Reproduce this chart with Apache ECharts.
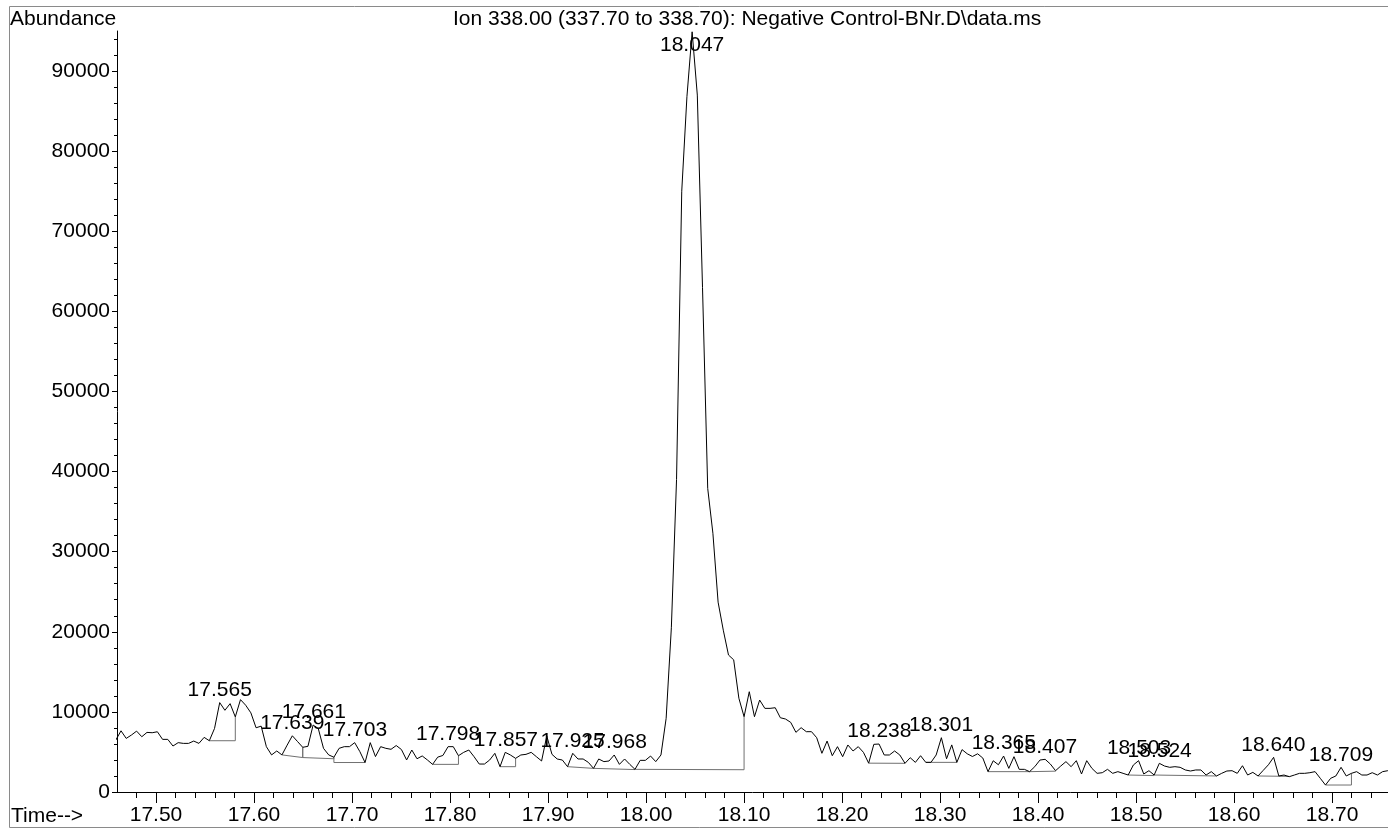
<!DOCTYPE html>
<html>
<head>
<meta charset="utf-8">
<script src="https://cdn.jsdelivr.net/npm/echarts@6/dist/echarts.min.js"></script>
<style>
html,body{margin:0;padding:0;background:#fff;}
#chart{width:1388px;height:829px;}
</style>
</head>
<body>
<div id="chart"></div>
<script>
// ---------------- DATA ----------------
const titleText = 'Ion 338.00 (337.70 to 338.70): Negative Control-BNr.D\\data.ms';
const yAxisName = 'Abundance';
const xAxisName = 'Time-->';

// scan times (min)
const scanTimes = [
17.4590,17.4643,17.4696,17.4749,17.4802,17.4855,17.4908,17.4961,17.5014,17.5067,
17.5120,17.5173,17.5226,17.5279,17.5332,17.5385,17.5438,17.5491,17.5544,17.5597,
17.5650,17.5703,17.5756,17.5809,17.5862,17.5915,17.5968,17.6021,17.6073,17.6126,
17.6179,17.6232,17.6285,17.6338,17.6391,17.6444,17.6497,17.6550,17.6603,17.6656,
17.6709,17.6762,17.6815,17.6868,17.6921,17.6974,17.7027,17.7080,17.7133,17.7186,
17.7239,17.7292,17.7345,17.7398,17.7451,17.7504,17.7557,17.7610,17.7663,17.7716,
17.7769,17.7822,17.7874,17.7927,17.7980,17.8033,17.8086,17.8139,17.8192,17.8245,
17.8298,17.8351,17.8404,17.8457,17.8510,17.8563,17.8616,17.8669,17.8722,17.8775,
17.8828,17.8881,17.8934,17.8987,17.9040,17.9093,17.9146,17.9199,17.9252,17.9305,
17.9358,17.9411,17.9464,17.9517,17.9570,17.9622,17.9675,17.9728,17.9781,17.9834,
17.9887,17.9940,17.9993,18.0046,18.0099,18.0152,18.0205,18.0258,18.0311,18.0364,
18.0417,18.0470,18.0523,18.0576,18.0629,18.0682,18.0735,18.0788,18.0841,18.0894,
18.0947,18.1000,18.1053,18.1106,18.1159,18.1212,18.1265,18.1318,18.1370,18.1423,
18.1476,18.1529,18.1582,18.1635,18.1688,18.1741,18.1794,18.1847,18.1900,18.1953,
18.2006,18.2059,18.2112,18.2165,18.2218,18.2271,18.2324,18.2377,18.2430,18.2483,
18.2536,18.2589,18.2642,18.2695,18.2748,18.2801,18.2854,18.2907,18.2960,18.3013,
18.3066,18.3119,18.3171,18.3224,18.3277,18.3330,18.3383,18.3436,18.3489,18.3542,
18.3595,18.3648,18.3701,18.3754,18.3807,18.3860,18.3913,18.3966,18.4019,18.4072,
18.4125,18.4178,18.4231,18.4284,18.4337,18.4390,18.4443,18.4496,18.4549,18.4602,
18.4655,18.4708,18.4761,18.4814,18.4867,18.4919,18.4972,18.5025,18.5078,18.5131,
18.5184,18.5237,18.5290,18.5343,18.5396,18.5449,18.5502,18.5555,18.5608,18.5661,
18.5714,18.5767,18.5820,18.5873,18.5926,18.5979,18.6032,18.6085,18.6138,18.6191,
18.6244,18.6297,18.6350,18.6403,18.6456,18.6509,18.6562,18.6615,18.6667,18.6720,
18.6773,18.6826,18.6879,18.6932,18.6985,18.7038,18.7091,18.7144,18.7197,18.7250,
18.7303,18.7356,18.7409,18.7462,18.7515,18.7568,18.7621
];

// abundance at each scan
const abundance = [
6490,7640,6690,7110,7600,6900,7440,7400,7520,6570,
6570,5740,6160,6070,6070,6360,6070,6820,6400,7930,
11160,10200,11030,9380,11530,10830,9880,8020,8220,5660,
4630,5120,4630,5850,7020,6300,5580,5700,8360,7900,
5450,4630,4340,5450,5660,5660,6160,5040,3680,6160,
4420,5660,5450,5330,5800,5300,4000,5240,4150,4500,
4000,3450,4350,4560,5660,5660,4530,4950,5240,4410,
3490,3490,3990,4830,3160,4950,4620,4200,4620,4700,
4950,4410,3870,6990,4700,4120,3990,3160,4830,4120,
4120,3700,2950,4120,3790,3870,4620,3450,4120,3450,
2830,3950,3950,4490,3790,4620,9200,20500,39000,75000,
86800,94900,87000,63000,37900,32300,23700,20200,17100,16500,
11700,9400,12520,9400,11480,10440,10440,10520,9270,9110,
8690,7450,8030,7530,7530,6780,4830,6360,4530,5660,
4410,5870,5120,5660,4950,3600,5950,5990,4620,4620,
5120,4620,3580,4280,3700,4530,3700,3700,4620,6780,
4150,5880,3700,5290,4770,4430,4770,4240,2540,3900,
3400,4490,2950,4410,2830,2830,2540,3160,3990,4080,
3490,2660,3240,3790,3160,3910,2250,3910,2950,2330,
2410,2830,2330,2540,2330,2120,3370,3910,2250,2660,
2120,3580,3240,3080,3160,3080,2750,2620,2750,2750,
2120,2540,2000,2330,2620,2660,2330,3280,2120,2450,
2000,2700,3400,4330,2000,2120,1910,2120,2330,2330,
2410,2540,1710,870,1710,2000,3080,2000,2330,2540,
2120,2120,2410,2120,2540,2660,2500
];

// labelled peaks (retention times)
const peakLabels = ['17.565','17.639','17.661','17.703','17.798','17.857','17.925','17.968',
  '18.047','18.238','18.301','18.365','18.407','18.503','18.524','18.640','18.709'];

// integration events: start/end time and baseline abundance at start/end
const eventStart = [17.5544,17.6285,17.6497,17.6815,17.7822,17.8510,17.9199,17.9464,17.9887,
  18.2271,18.2854,18.3489,18.3913,18.4919,18.5184,18.6244,18.6932];
const eventEnd   = [17.5809,17.6497,17.6815,17.7133,17.8086,17.8669,17.9464,17.9887,18.1000,
  18.2642,18.3171,18.3913,18.4178,18.5184,18.5820,18.6562,18.7197];
const baseStart  = [6400,4630,4300,3680,3450,3160,3160,2950,2780,3600,3700,2540,2540,2050,2050,2000,870];
const baseEnd    = [6400,4300,4150,3680,3450,3160,2950,2800,2780,3580,3700,2540,2600,2050,2000,1950,870];

// axis tick labels
const xTickLabels = ['17.50','17.60','17.70','17.80','17.90','18.00','18.10','18.20','18.30','18.40','18.50','18.60','18.70'];
const yTickLabels = ['0','10000','20000','30000','40000','50000','60000','70000','80000','90000'];

// ---------------- CHART ----------------
const FONT = '"Liberation Sans", Arial, Helvetica, sans-serif';
const TXT = '#000';
const X_MIN = 17.4602, X_MAX = 18.757, Y_MIN = 0, Y_MAX = 95000;

const xMajor = xTickLabels.map(Number);
const yMajor = yTickLabels.map(Number);
const xMinor = [];
for (let i = 874; i <= 937; i++) { if (i % 5 !== 0) xMinor.push(Math.round(i * 2) / 100); }
const yMinor = [];
for (let v = 2000; v < Y_MAX; v += 2000) { if (v % 10000 !== 0) yMinor.push(v); }

const trace = scanTimes.map((t, i) => [t, abundance[i]]);
function traceAt(t) {
  let best = 0, bd = Infinity;
  scanTimes.forEach((s, i) => { const d = Math.abs(s - t); if (d < bd) { bd = d; best = i; } });
  return abundance[best];
}

const eventSeries = eventStart.map((ts, i) => ({
  type: 'line',
  data: [[ts, traceAt(ts)], [ts, baseStart[i]], [eventEnd[i], baseEnd[i]], [eventEnd[i], traceAt(eventEnd[i])]],
  symbol: 'none', silent: true, z: 2,
  lineStyle: { color: '#707070', width: 1 }
}));

const labelData = peakLabels.map(l => {
  const t = parseFloat(l), v = traceAt(t);
  const nearTop = v > 0.85 * Y_MAX;
  return { value: [t, v], label: { position: nearTop ? 'bottom' : 'top', distance: nearTop ? 3 : 2 } };
});

const chart = echarts.init(document.getElementById('chart'), null, { renderer: 'canvas' });
chart.setOption({
  animation: false,
  backgroundColor: '#fff',
  textStyle: { fontFamily: FONT },
  grid: { left: 117, right: 0, top: 31, bottom: 37, containLabel: false },
  xAxis: [{
    type: 'value', min: X_MIN, max: X_MAX, position: 'bottom',
    axisLine: { onZero: false, lineStyle: { color: '#000', width: 1 } },
    axisTick: { customValues: xMajor, length: 11, lineStyle: { color: '#000', width: 1 } },
    axisLabel: { customValues: xMajor, margin: 13, fontSize: 21, fontFamily: FONT, color: TXT,
      formatter: v => { const i = xMajor.findIndex(m => Math.abs(m - v) < 1e-6); return i >= 0 ? xTickLabels[i] : ''; } },
    splitLine: { show: false }
  }, {
    type: 'value', min: X_MIN, max: X_MAX, position: 'bottom',
    axisLine: { show: false, onZero: false },
    axisTick: { customValues: xMinor, length: 6, lineStyle: { color: '#000', width: 1 } },
    axisLabel: { show: false }, splitLine: { show: false }
  }],
  yAxis: [{
    type: 'value', min: Y_MIN, max: Y_MAX, position: 'left',
    axisLine: { show: true, onZero: false, lineStyle: { color: '#000', width: 1 } },
    axisTick: { customValues: yMajor, length: 5, lineStyle: { color: '#000', width: 1 } },
    axisLabel: { customValues: yMajor, margin: 7, fontSize: 21, fontFamily: FONT, color: TXT,
      formatter: v => { const i = yMajor.indexOf(v); return i >= 0 ? yTickLabels[i] : ''; } },
    splitLine: { show: false }
  }, {
    type: 'value', min: Y_MIN, max: Y_MAX, position: 'left',
    axisLine: { show: false, onZero: false },
    axisTick: { customValues: yMinor, length: 3, lineStyle: { color: '#000', width: 1 } },
    axisLabel: { show: false }, splitLine: { show: false }
  }],
  series: [
    { type: 'line', data: trace, symbol: 'none', showSymbol: false, silent: true, z: 3,
      lineStyle: { color: '#000', width: 1 } },
    ...eventSeries,
    { type: 'scatter', data: labelData, symbolSize: 0, silent: true, z: 4,
      itemStyle: { opacity: 1 },
      label: { show: true, fontSize: 21, fontFamily: FONT, color: TXT, opacity: 1,
        formatter: p => peakLabels[p.dataIndex] } }
  ],
  graphic: [
    { type: 'rect', silent: true, z: 0,
      shape: { x: 9.5, y: 6.5, width: 1400, height: 821 },
      style: { fill: 'none', stroke: '#8a8a8a', lineWidth: 1 } },
    { type: 'text', x: 10, y: 19.5, silent: true,
      style: { text: yAxisName, fontSize: 21, fontFamily: FONT, fill: TXT, align: 'left', verticalAlign: 'middle' } },
    { type: 'text', x: 453, y: 19.5, silent: true,
      style: { text: titleText, fontSize: 21, fontFamily: FONT, fill: TXT, align: 'left', verticalAlign: 'middle' } },
    { type: 'text', x: 11, y: 816, silent: true,
      style: { text: xAxisName, fontSize: 21, fontFamily: FONT, fill: TXT, align: 'left', verticalAlign: 'middle' } }
  ]
});
</script>
</body>
</html>
